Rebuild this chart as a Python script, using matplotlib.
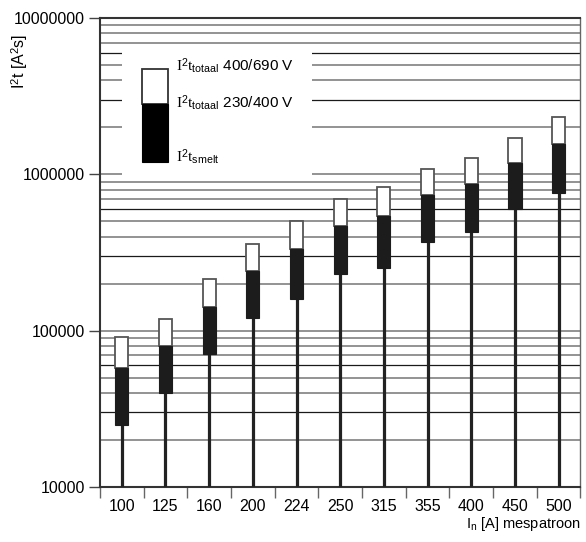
import numpy as np
import matplotlib
matplotlib.use("Agg")
import matplotlib.pyplot as plt
from matplotlib.patches import Rectangle

plt.rcParams['font.family'] = ['Liberation Sans', 'DejaVu Sans']
plt.rcParams['mathtext.fontset'] = 'custom'
plt.rcParams['mathtext.rm'] = 'Liberation Serif'
plt.rcParams['mathtext.sf'] = 'Liberation Sans'
plt.rcParams['mathtext.it'] = 'Liberation Serif:italic'

# waarden
ratings = ['100', '125', '160', '200', '224', '250', '315', '355', '400', '450', '500']
i2t_smelt = [25000, 40000, 71000, 120000, 160000, 232000, 253000, 370000, 425000, 597000, 763000]
i2t_totaal_230 = [58000, 80000, 142000, 240000, 333000, 470000, 544000, 738000, 864000, 1183000, 1573000]
i2t_totaal_400 = [91000, 118000, 214000, 358000, 503000, 696000, 834000, 1083000, 1279000, 1718000, 2342000]

x = np.arange(len(ratings))
smelt = np.array(i2t_smelt)
t230 = np.array(i2t_totaal_230)
t400 = np.array(i2t_totaal_400)

fig = plt.figure(figsize=(5.86, 5.42), dpi=100)
ax = fig.add_axes([0.1706, 0.102, 0.82, 0.8642])
ax.set_yscale('log')
ax.set_ylim(1e4, 1e7)
ax.set_xlim(-0.5, len(ratings) - 0.5)

# horizontale lijnen
for dec in [1e4, 1e5, 1e6]:
    for m in range(1, 10):
        v = dec * m
        if v <= 1e4:
            continue
        if m in (3, 6):
            ax.axhline(v, color='#1a1a1a', lw=0.9, zorder=1)
        else:
            ax.axhline(v, color='#8a8a8a', lw=1.3, zorder=1)

# staven
ax.vlines(x, 1e4, smelt, color='#222222', lw=2.3, zorder=3)
ax.bar(x, t400 - t230, bottom=t230, width=0.3, color='white', edgecolor='#555555', lw=1.3, zorder=4)
ax.bar(x, t230 - smelt, bottom=smelt, width=0.3, color='#1c1c1c', edgecolor='#1c1c1c', lw=0.8, zorder=5)

# legenda
ax.add_patch(Rectangle((0.0458, 0.6615), 0.395, 0.275, transform=ax.transAxes,
                       facecolor='white', edgecolor='none', zorder=2))
ax.add_patch(Rectangle((0.0866, 0.8164), 0.054, 0.0746, transform=ax.transAxes,
                       facecolor='white', edgecolor='#333333', lw=1.3, zorder=6))
ax.add_patch(Rectangle((0.0866, 0.6938), 0.054, 0.1226, transform=ax.transAxes,
                       facecolor='black', edgecolor='black', lw=0.8, zorder=6))
ax.text(0.158, 0.898, r'$\mathrm{I}^{\mathsf{2}}\mathrm{t}_{\mathsf{totaal}}$ 400/690 V',
        transform=ax.transAxes, fontsize=11, va='center', ha='left', zorder=7)
ax.text(0.158, 0.819, r'$\mathrm{I}^{\mathsf{2}}\mathrm{t}_{\mathsf{totaal}}$ 230/400 V',
        transform=ax.transAxes, fontsize=11, va='center', ha='left', zorder=7)
ax.text(0.158, 0.704, r'$\mathrm{I}^{\mathsf{2}}\mathrm{t}_{\mathsf{smelt}}$',
        transform=ax.transAxes, fontsize=11, va='center', ha='left', zorder=7)

# assen
ax.set_yticks([1e4, 1e5, 1e6, 1e7])
ax.set_yticklabels(['10000', '100000', '1000000', '10000000'])
ax.yaxis.set_minor_locator(matplotlib.ticker.NullLocator())
ax.tick_params(axis='y', which='major', length=8, width=1.0, color='#444444',
               labelsize=11.5, pad=3, direction='out')

ax.set_xticks(x)
ax.set_xticklabels(ratings)
ax.set_xticks(np.arange(len(ratings) + 1) - 0.5, minor=True)
ax.tick_params(axis='x', which='major', length=0, labelsize=11.5, pad=9)
ax.tick_params(axis='x', which='minor', length=8, width=1.0, color='#666666', direction='out')

for s in ['left', 'bottom', 'top']:
    ax.spines[s].set_color('#333333')
    ax.spines[s].set_linewidth(1.5)
ax.spines['right'].set_color('#666666')
ax.spines['right'].set_linewidth(1.0)

fig.text(0.034, 0.886, r'I$^{\mathsf{2}}$t [A$^{\mathsf{2}}$s]', rotation=90,
         fontsize=11.5, va='center', ha='center')
fig.text(0.991, 0.034, r'I$_{\mathsf{n}}$ [A] mespatroon', fontsize=10.5,
         va='center', ha='right')

fig.savefig('out.png', dpi=100)
